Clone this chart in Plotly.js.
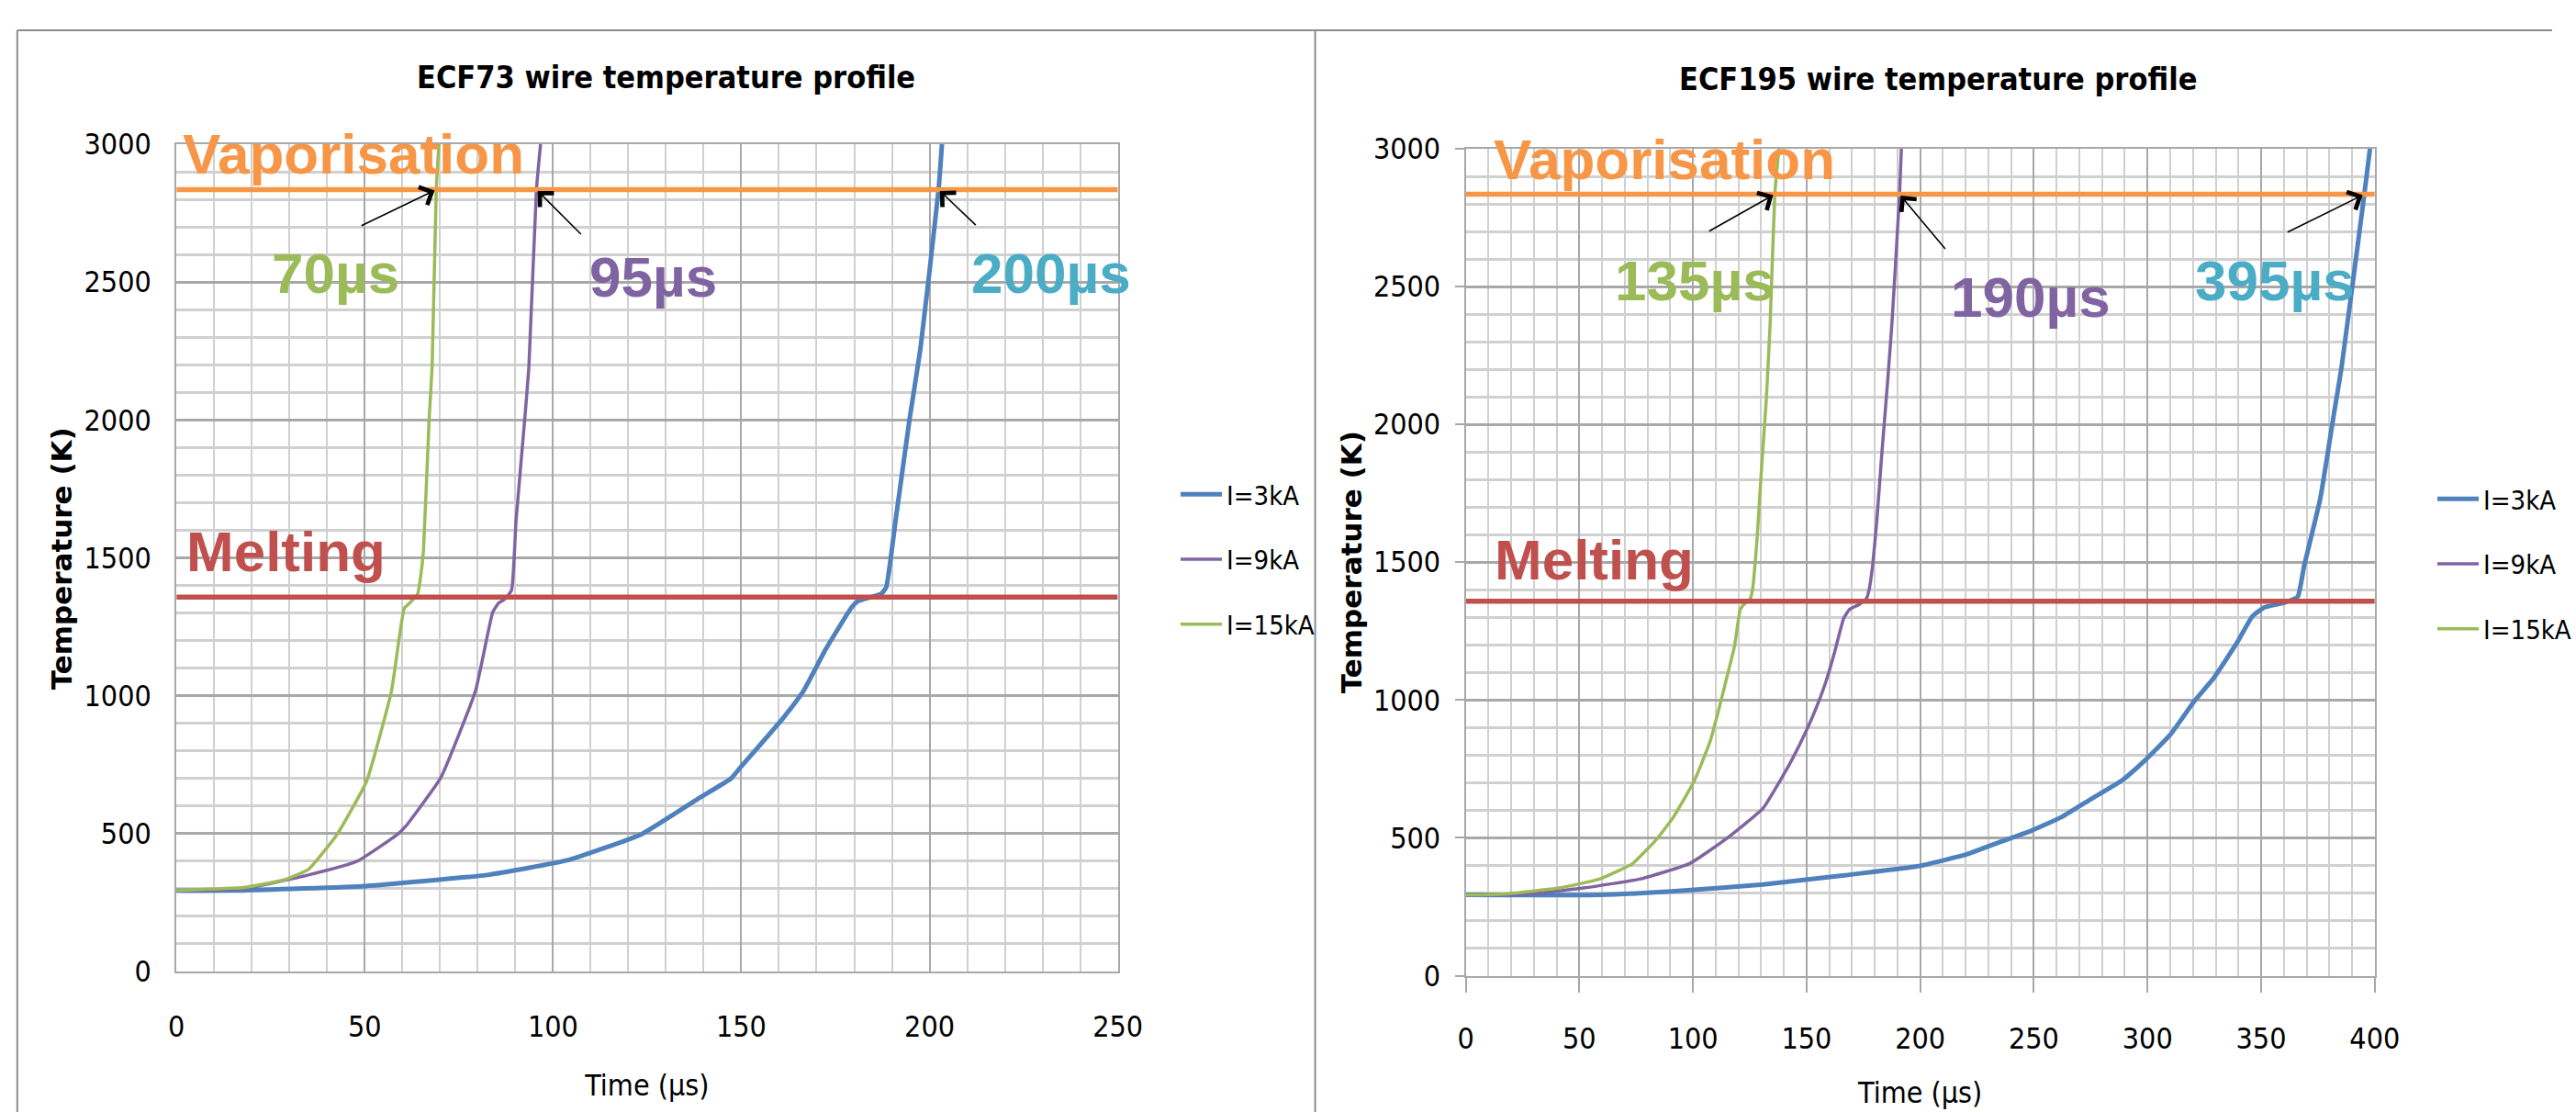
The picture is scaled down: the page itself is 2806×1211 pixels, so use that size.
<!DOCTYPE html>
<html>
<head>
<meta charset="utf-8">
<script src="https://cdn.plot.ly/plotly-3.0.1.min.js"></script>
<style>html,body{margin:0;padding:0;background:#fff;overflow:hidden}</style>
</head>
<body>
<div id="chart" style="width:2806px;height:1211px"></div>
<script>
// ---------------- DATA ----------------
const seriesNames = ['I=3kA', 'I=9kA', 'I=15kA'];

// ECF73 (left chart) : time in µs, temperature in K
const ecf73_t_3kA = [0, 17.8, 50.2, 82.5, 104, 123.5, 138.6, 147.3, 149.6, 161, 166.5, 172.5, 179.3, 181, 187.2, 188.5, 191, 194.7, 197.6, 202.4, 203.3];
const ecf73_T_3kA = [293, 294, 310, 350, 404, 498, 627, 700, 737, 917, 1017, 1170, 1320, 1343, 1370, 1393, 1637, 2003, 2260, 2835, 3000];
const ecf73_t_9kA = [0, 17.8, 35, 48, 58.8, 60.9, 70.2, 79.4, 84, 85.6, 87.2, 89, 90.2, 92.5, 93.6, 95.6, 96.7];
const ecf73_T_9kA = [293, 300, 350, 400, 498, 527, 703, 1017, 1303, 1337, 1350, 1383, 1637, 2003, 2193, 2835, 3000];
const ecf73_t_15kA = [0, 17.9, 28.7, 35.1, 42.7, 50.5, 57.1, 60.5, 62, 64, 64.7, 65.6, 67.1, 67.9, 69, 69.7];
const ecf73_T_15kA = [293, 305, 333, 371, 498, 690, 1017, 1317, 1337, 1367, 1417, 1527, 2003, 2193, 2835, 3000];

// ECF195 (right chart)
const ecf195_t_3kA = [0, 59, 95, 130.8, 166.7, 199, 220.4, 235.4, 248.7, 262.1, 275.4, 288.7, 298.1, 310.1, 320.7, 328.7, 339.4, 346.1, 351.4, 360.1, 366.1, 368.9, 376, 382.1, 385.4, 395.4, 397.9];
const ecf195_T_3kA = [293, 293, 308, 331, 364, 397, 440, 486, 525, 575, 642, 708, 775, 875, 997, 1075, 1208, 1303, 1336, 1353, 1375, 1486, 1730, 2042, 2208, 2835, 3000];
const ecf195_t_9kA = [0, 27.6, 51.9, 77, 98.6, 114.7, 130.8, 138.3, 143.6, 150.3, 154.3, 158.3, 162.3, 166.3, 168.9, 173, 176.3, 177.4, 179, 180.9, 182.9, 185.6, 187.6, 190.9, 191.7];
const ecf195_T_9kA = [293, 296, 318, 351, 407, 497, 607, 707, 784, 896, 973, 1062, 1173, 1296, 1329, 1346, 1368, 1396, 1484, 1651, 1873, 2151, 2373, 2835, 3000];
const ecf195_t_15kA = [0, 16.1, 41.2, 59.1, 73.5, 84.2, 91.4, 100.6, 107.6, 110.9, 114.3, 118.3, 120.8, 122.3, 125.2, 126.3, 128.3, 130, 132.3, 134, 136, 137.8];
const ecf195_T_15kA = [293, 296, 318, 351, 407, 497, 575, 707, 851, 951, 1062, 1196, 1329, 1346, 1368, 1407, 1596, 1818, 2096, 2373, 2835, 3000];

// Reference temperatures (K)
const vaporisationT = 2835;
const meltingT = 1358;

// Axis extents
const ecf73_timeRange = [0, 250];
const ecf195_timeRange = [0, 400];
const tempRange = [0, 3000];

// Vaporisation time labels (µs)
const ecf73_vapTimes = [70, 95, 200];
const ecf195_vapTimes = [135, 190, 395];

// ---------------- STYLE ----------------
const W = 2806, H = 1211;
const px = v => v / W;
const py = v => 1 - v / H;

const C_BLUE = '#4F81BD', C_PURPLE = '#8064A2', C_GREEN = '#9BBB59';
const C_VAP = '#F79646', C_MELT = '#C0504D', C_TEAL = '#4BACC6';
const seriesColors = [C_BLUE, C_PURPLE, C_GREEN];
const labelColors = [C_GREEN, C_PURPLE, C_TEAL];

const FONT_N = '"DejaVu Sans Condensed", "Liberation Sans Narrow", sans-serif';
const FONT_B = '"Liberation Sans", Arial, sans-serif';
const FONT_Y = '"DejaVu Sans", Verdana, sans-serif';

const MAJOR = '#a8a8a8', MINOR = '#d0d0d0';

// crossing time of a series with a temperature level
function crossing(ts, Ts, level) {
  for (let i = 1; i < Ts.length; i++) {
    if (Ts[i - 1] <= level && Ts[i] >= level) {
      const f = (level - Ts[i - 1]) / (Ts[i] - Ts[i - 1]);
      return ts[i - 1] + f * (ts[i] - ts[i - 1]);
    }
  }
  return ts[ts.length - 1];
}

const left = [
  [ecf73_t_3kA, ecf73_T_3kA], [ecf73_t_9kA, ecf73_T_9kA], [ecf73_t_15kA, ecf73_T_15kA]
];
const right = [
  [ecf195_t_3kA, ecf195_T_3kA], [ecf195_t_9kA, ecf195_T_9kA], [ecf195_t_15kA, ecf195_T_15kA]
];

const traces = [];
const widths = [5, 3.5, 3.5];
left.forEach((s, i) => traces.push({
  type: 'scatter', mode: 'lines', x: s[0], y: s[1], name: seriesNames[i],
  xaxis: 'x', yaxis: 'y', legend: 'legend', legendgroup: 'L' + i,
  line: {color: seriesColors[i], width: widths[i], shape: 'spline', smoothing: 0.4}, hoverinfo: 'skip'
}));
right.forEach((s, i) => traces.push({
  type: 'scatter', mode: 'lines', x: s[0], y: s[1], name: seriesNames[i],
  xaxis: 'x2', yaxis: 'y2', legend: 'legend2', legendgroup: 'R' + i,
  line: {color: seriesColors[i], width: widths[i], shape: 'spline', smoothing: 0.4}, hoverinfo: 'skip'
}));
// reference lines
[['x', 'y', ecf73_timeRange], ['x2', 'y2', ecf195_timeRange]].forEach(a => {
  traces.push({type: 'scatter', mode: 'lines', x: a[2], y: [vaporisationT, vaporisationT],
    xaxis: a[0], yaxis: a[1], showlegend: false, line: {color: C_VAP, width: 5.5}, hoverinfo: 'skip'});
  traces.push({type: 'scatter', mode: 'lines', x: a[2], y: [meltingT, meltingT],
    xaxis: a[0], yaxis: a[1], showlegend: false, line: {color: C_MELT, width: 5.5}, hoverinfo: 'skip'});
});

function xAxis(domain, range, anchor, outsideTicks) {
  return {
    domain: domain, range: range, anchor: anchor, dtick: 50, tick0: 0,
    showgrid: true, gridcolor: MAJOR, gridwidth: 2,
    minor: {dtick: 10, showgrid: true, gridcolor: MINOR, gridwidth: 2},
    zeroline: false, showline: true, mirror: true, linecolor: MAJOR, linewidth: 2,
    ticks: outsideTicks ? 'outside' : '', ticklen: outsideTicks ? 16 : 0, tickwidth: 2, tickcolor: MAJOR,
    tickfont: {family: FONT_N, size: 32, color: '#000'},
    ticklabelstandoff: outsideTicks ? 23 : 31,
    title: {text: 'Time (µs)', font: {family: FONT_N, size: 32, color: '#000'}, standoff: outsideTicks ? 30 : 34},
    fixedrange: true
  };
}
function yAxis(domain, anchor, outsideTicks) {
  return {
    domain: domain, range: tempRange, anchor: anchor, dtick: 500, tick0: 0,
    showgrid: true, gridcolor: MAJOR, gridwidth: 3,
    minor: {dtick: 100, showgrid: true, gridcolor: MINOR, gridwidth: 3},
    zeroline: false, showline: true, mirror: true, linecolor: MAJOR, linewidth: 2,
    ticks: outsideTicks ? 'outside' : '', ticklen: outsideTicks ? 10 : 0, tickwidth: 2, tickcolor: MAJOR,
    tickfont: {family: FONT_N, size: 32, color: '#000'},
    ticklabelstandoff: outsideTicks ? 9 : 19,
    fixedrange: true
  };
}

const annotations = [];
function txt(text, x, y, size, color, family, angle) {
  annotations.push({xref: 'paper', yref: 'paper', x: px(x), y: py(y), text: text, showarrow: false,
    xanchor: 'center', yanchor: 'middle', textangle: angle || 0,
    font: {family: family || FONT_B, size: size, color: color, weight: 'bold'}});
}
// chart titles
txt('ECF73 wire temperature profile', 732, 84, 34, '#000', FONT_N);
txt('ECF195 wire temperature profile', 2131, 86, 34, '#000', FONT_N);
// y axis titles
txt('Temperature (K)', 68, 608, 31, '#000', FONT_Y, -90);
txt('Temperature (K)', 1486, 612, 31, '#000', FONT_Y, -90);
// phase labels
txt('Vaporisation', 389, 167, 62, C_VAP);
txt('Melting', 314, 601, 62, C_MELT);
txt('Vaporisation', 1830, 174, 62, C_VAP);
txt('Melting', 1753, 609, 62, C_MELT);
// time labels
const leftLabelPos = [[369, 298], [718, 301], [1156, 298]];
const rightLabelPos = [[1863, 305], [2233, 323], [2501, 305]];
ecf73_vapTimes.forEach((v, i) => txt(v + 'µs', leftLabelPos[i][0], leftLabelPos[i][1], 62, labelColors[i]));
ecf195_vapTimes.forEach((v, i) => txt(v + 'µs', rightLabelPos[i][0], rightLabelPos[i][1], 62, labelColors[i]));

// arrows pointing at vaporisation crossing (label i -> series 15kA, 9kA, 3kA)
const leftTails = [[-83, 40], [50, 50], [42, 40]];
const rightTails = [[-73, 41], [51, 61], [-85, 42]];
const seriesForLabel = [2, 1, 0];
seriesForLabel.forEach((si, i) => {
  annotations.push({xref: 'x', yref: 'y', x: crossing(left[si][0], left[si][1], vaporisationT), y: vaporisationT,
    text: '', showarrow: true, arrowhead: 4, arrowsize: 2.6, arrowwidth: 1.6, arrowcolor: '#000',
    ax: leftTails[i][0], ay: leftTails[i][1], axref: 'pixel', ayref: 'pixel', standoff: 2});
  annotations.push({xref: 'x2', yref: 'y2', x: crossing(right[si][0], right[si][1], vaporisationT), y: vaporisationT,
    text: '', showarrow: true, arrowhead: 4, arrowsize: 2.6, arrowwidth: 1.6, arrowcolor: '#000',
    ax: rightTails[i][0], ay: rightTails[i][1], axref: 'pixel', ayref: 'pixel', standoff: 2});
});

const frameColor = '#8c8c8c';
const shapes = [
  {type: 'line', xref: 'paper', yref: 'paper', x0: px(19), x1: 1, y0: py(33), y1: py(33), line: {color: frameColor, width: 2}},
  {type: 'line', xref: 'paper', yref: 'paper', x0: px(19), x1: px(19), y0: py(33), y1: 0, line: {color: frameColor, width: 2}},
  {type: 'line', xref: 'paper', yref: 'paper', x0: px(1446), x1: px(1446), y0: py(33), y1: 0, line: {color: frameColor, width: 2}}
];

const legendBase = {
  xanchor: 'left', yanchor: 'top', bgcolor: 'rgba(0,0,0,0)', borderwidth: 0,
  font: {family: FONT_N, size: 29, color: '#000'}, tracegroupgap: 30, itemwidth: 45,
  traceorder: 'grouped'
};

const layout = {
  width: W, height: H, autosize: false,
  margin: {l: 0, r: 0, t: 0, b: 0, pad: 0},
  paper_bgcolor: '#fff', plot_bgcolor: '#fff',
  showlegend: true,
  xaxis: xAxis([px(194), px(1229)], ecf73_timeRange, 'y', false),
  yaxis: yAxis([py(1058), py(157)], 'x', false),
  xaxis2: xAxis([px(1611.5), px(2611)], ecf195_timeRange, 'y2', true),
  yaxis2: yAxis([py(1062.5), py(162)], 'x2', true),
  legend: Object.assign({}, legendBase, {x: px(1293), y: py(513)}),
  legend2: Object.assign({}, legendBase, {x: px(2675), y: py(518)}),
  annotations: annotations,
  shapes: shapes
};

Plotly.newPlot('chart', traces, layout, {staticPlot: true, displayModeBar: false});
</script>
</body>
</html>
